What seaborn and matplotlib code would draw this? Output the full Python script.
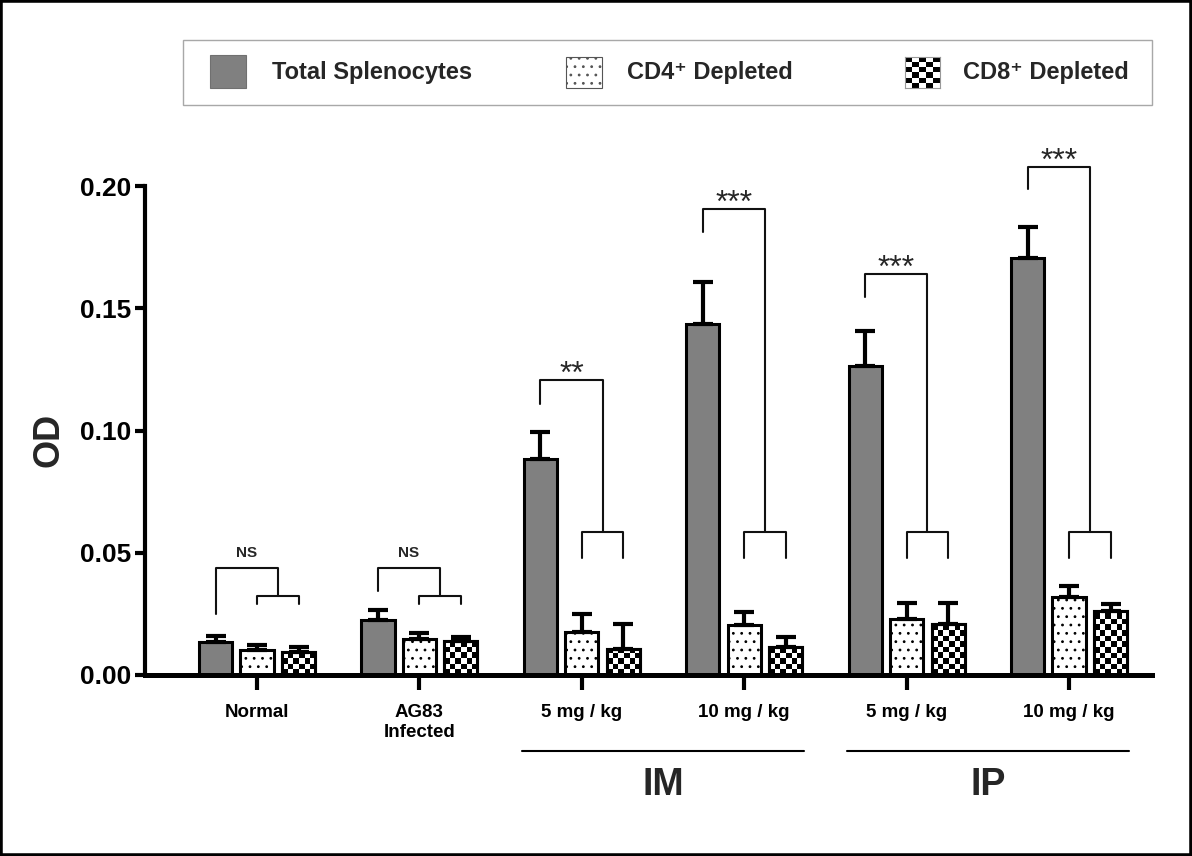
import numpy as np
import pandas as pd
import matplotlib
matplotlib.use('Agg')
import matplotlib.pyplot as plt
import matplotlib.transforms as mtransforms
from matplotlib.patches import Rectangle
import seaborn as sns

# ---------------- data ----------------
groups = ['Normal', 'AG83 Infected', 'IM 5', 'IM 10', 'IP 5', 'IP 10']
tick_labels = ['Normal', 'AG83\nInfected', '5 mg / kg', '10 mg / kg', '5 mg / kg', '10 mg / kg']
cell_types = ['Total Splenocytes', 'CD4\u207a Depleted', 'CD8\u207a Depleted']

total_od = [0.0136, 0.0225, 0.0882, 0.1436, 0.1265, 0.1704]
total_err = [0.0024, 0.0040, 0.0111, 0.0173, 0.0143, 0.0127]
cd4_od = [0.0102, 0.0146, 0.0177, 0.0204, 0.0229, 0.0320]
cd4_err = [0.0021, 0.0027, 0.0072, 0.0052, 0.0064, 0.0044]
cd8_od = [0.0095, 0.0140, 0.0105, 0.0113, 0.0209, 0.0262]
cd8_err = [0.0021, 0.0017, 0.0104, 0.0041, 0.0087, 0.0028]

sig_labels = ['NS', 'NS', '**', '***', '***', '***']
sig_top = [0.0438, 0.0438, 0.1207, 0.1905, 0.1639, 0.2079]
sig_left_end = [0.0250, 0.0345, 0.1110, 0.1813, 0.1547, 0.1987]
sig_sub = [0.0323, 0.0323, 0.0585, 0.0585, 0.0584, 0.0584]
sig_sub_end = [0.0290, 0.0290, 0.0479, 0.0479, 0.0477, 0.0477]

route_labels = ['IM', 'IP']
route_groups = [(2, 3), (4, 5)]

yticks = [0.00, 0.05, 0.10, 0.15, 0.20]

# ---------------- style ----------------
sns.set_style('ticks')
plt.rcParams['font.family'] = ['Liberation Sans', 'DejaVu Sans']
plt.rcParams['hatch.linewidth'] = 0.8

W, H = 1192, 856
fig = plt.figure(figsize=(W / 100, H / 100), dpi=100)
ax = fig.add_axes([145 / W, 1 - 675 / H, 1007 / W, 489 / H])

rows = []
for ct, vals in zip(cell_types, [total_od, cd4_od, cd8_od]):
    for g, v in zip(groups, vals):
        rows.append({'group': g, 'cell': ct, 'od': v})
df = pd.DataFrame(rows)

palette = {cell_types[0]: '#808080', cell_types[1]: 'white', cell_types[2]: 'white'}
sns.barplot(data=df, x='group', y='od', hue='cell', order=groups, hue_order=cell_types,
            palette=palette, width=0.7665, gap=0.2, edgecolor='black', linewidth=2.2,
            saturation=1, errorbar=None, legend=False, ax=ax)

XL = (-0.6897, 5.511)
YL = (0.0, 0.2)
ax.set_xlim(*XL)
ax.set_ylim(*YL)

# dotted hatch for CD4
for p in ax.containers[1]:
    p.set_hatch('..')

# checkerboard for CD8
px_x = ax.transData.transform((1, 0))[0] - ax.transData.transform((0, 0))[0]
px_y = ax.transData.transform((0, 1))[1] - ax.transData.transform((0, 0))[1]
for p in ax.containers[2]:
    x0, w, h = p.get_x(), p.get_width(), p.get_height()
    nx = 6
    cell_px = w * px_x / nx
    cell_h = cell_px / px_y
    ny = int(np.ceil(h / cell_h))
    arr = np.add.outer(np.arange(ny), np.arange(nx)) % 2
    im = ax.imshow(arr, cmap='gray', vmin=0, vmax=1, extent=(x0, x0 + w, 0, ny * cell_h),
                   origin='lower', interpolation='nearest', aspect='auto',
                   zorder=p.get_zorder() + 0.1)
    im.set_clip_path(p)
    ax.add_patch(Rectangle((x0, 0), w, h, fill=False, edgecolor='black', lw=2.2,
                           zorder=p.get_zorder() + 0.2))

# error bars (upper only)
centers = {}
for k, (cont, errs) in enumerate(zip(ax.containers, [total_err, cd4_err, cd8_err])):
    xs = [p.get_x() + p.get_width() / 2 for p in cont]
    ys = [p.get_height() for p in cont]
    centers[k] = xs
    ax.errorbar(xs, ys, yerr=[np.zeros(len(xs)), errs], fmt='none', ecolor='black',
                elinewidth=3, capsize=7, capthick=3, zorder=6, clip_on=False)

ax.set_xlim(*XL)
ax.set_ylim(*YL)

# significance brackets
for i in range(len(groups)):
    xt = centers[0][i]
    xa = centers[1][i]
    xb = centers[2][i]
    xm = (xa + xb) / 2
    ax.plot([xt, xt, xm, xm], [sig_left_end[i], sig_top[i], sig_top[i], sig_sub[i]],
            color='#111111', lw=1.5, clip_on=False, zorder=4)
    ax.plot([xa, xa, xb, xb], [sig_sub_end[i], sig_sub[i], sig_sub[i], sig_sub_end[i]],
            color='#111111', lw=1.5, clip_on=False, zorder=4)
    if sig_labels[i] == 'NS':
        ax.annotate(sig_labels[i], xy=((xt + xm) / 2, sig_top[i]), xytext=(0, 8),
                    textcoords='offset points', ha='center', va='baseline',
                    fontsize=11, fontweight='bold', annotation_clip=False)
    else:
        ax.annotate(sig_labels[i], xy=((xt + xm) / 2, sig_top[i]), xytext=(0, -2),
                    textcoords='offset points', ha='center', va='baseline',
                    fontsize=23, annotation_clip=False)

# axes styling
sns.despine(ax=ax)
ax.spines['left'].set_linewidth(3)
ax.spines['left'].set_bounds(0, 0.2)
ax.spines['bottom'].set_linewidth(3.6)
ax.spines['left'].set_color('black')
ax.spines['bottom'].set_color('black')
ax.set_xticks(range(len(groups)))
ax.set_xticklabels(tick_labels, fontsize=13.5, fontweight='bold')
ax.set_yticks(yticks)
ax.set_yticklabels([f'{v:.2f}' for v in yticks], fontsize=19, fontweight='bold')
ax.tick_params(axis='x', length=11, width=3, pad=10, colors='black')
ax.tick_params(axis='y', length=7, width=3, pad=3, colors='black')
ax.set_xlabel('')
ax.set_ylabel('OD', fontsize=26, fontweight='bold')
ax.yaxis.set_label_coords(-0.0775, 0.48)

# route group lines and labels
trans = mtransforms.blended_transform_factory(ax.transData, ax.transAxes)
for lab, (g0, g1) in zip(route_labels, route_groups):
    ax.plot([g0 - 0.37, g1 + 0.37], [-0.1554, -0.1554], color='black', lw=1.5,
            transform=trans, clip_on=False)
    ax.text((g0 + g1) / 2, -0.225, lab, transform=trans, ha='center', va='center',
            fontsize=27, fontweight='bold')

# legend (manual)
def fx(x):
    return x / W

def fy(y):
    return 1 - y / H

fig.add_artist(Rectangle((fx(183), fy(105)), fx(1152) - fx(183), fy(40) - fy(105),
                         transform=fig.transFigure, fill=False, edgecolor='#a8a8a8', lw=1))
fig.add_artist(Rectangle((fx(210), fy(88)), fx(246) - fx(210), fy(55) - fy(88),
                         transform=fig.transFigure, facecolor='#808080', edgecolor='#707070', lw=0.8))
fig.add_artist(Rectangle((fx(566), fy(88)), fx(602) - fx(566), fy(57) - fy(88),
                         transform=fig.transFigure, facecolor='white', edgecolor='#555555',
                         lw=0.8, hatch='..'))
lax = fig.add_axes([fx(905), fy(88), fx(940) - fx(905), fy(57) - fy(88)])
lax.imshow(np.add.outer(np.arange(6), np.arange(5)) % 2, cmap='gray', vmin=0, vmax=1,
           interpolation='nearest', aspect='auto')
lax.set_xticks([])
lax.set_yticks([])
for s in lax.spines.values():
    s.set_edgecolor('#999999')
    s.set_linewidth(0.8)
for lab, x in zip(cell_types, [272, 627, 963]):
    fig.text(fx(x), fy(73), lab, ha='left', va='center', fontsize=17, fontweight='bold')

# figure frame
fig.add_artist(Rectangle((0, 0), 1, 1, transform=fig.transFigure, fill=False,
                         edgecolor='black', lw=4))

fig.savefig('out.png', dpi=100)
